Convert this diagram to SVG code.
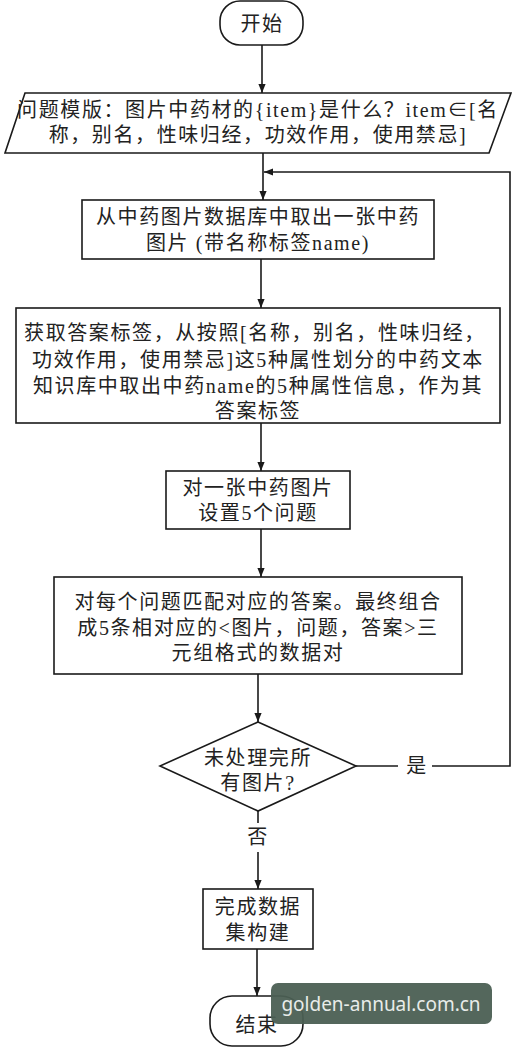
<svg xmlns="http://www.w3.org/2000/svg" width="516" height="1048" viewBox="0 0 516 1048">
<defs>
<style>
.s{fill:#fff;stroke:#1a1a1a;stroke-width:1.6}
.t{font-family:"Liberation Serif","Noto Sans CJK SC",serif;font-size:20px;letter-spacing:1.6px;fill:#222;text-anchor:middle;dominant-baseline:central}
.c{fill:none;stroke:#1a1a1a;stroke-width:1.6}
</style>
<marker id="ah" viewBox="0 0 10 10" refX="10" refY="5" markerWidth="9" markerHeight="9" markerUnits="userSpaceOnUse" orient="auto"><path d="M0,1 L10,5 L0,9 Z" fill="#1a1a1a"/></marker>
</defs>
<rect width="516" height="1048" fill="#fff"/>
<g id="connectors">
<line class="c" x1="262" y1="45" x2="262" y2="93" marker-end="url(#ah)"/>
<line class="c" x1="263" y1="153" x2="263" y2="200" marker-end="url(#ah)"/>
<polyline class="c" points="356,766 398,766"/>
<polyline class="c" points="432,766 510,766 510,172 264,172" marker-end="url(#ah)"/>
<line class="c" x1="261" y1="259" x2="261" y2="308" marker-end="url(#ah)"/>
<line class="c" x1="261" y1="423" x2="261" y2="471" marker-end="url(#ah)"/>
<line class="c" x1="261" y1="529" x2="261" y2="577" marker-end="url(#ah)"/>
<line class="c" x1="258" y1="674" x2="258" y2="722" marker-end="url(#ah)"/>
<line class="c" x1="258" y1="811" x2="258" y2="823"/>
<line class="c" x1="258" y1="852" x2="258" y2="889" marker-end="url(#ah)"/>
<line class="c" x1="257" y1="949" x2="257" y2="996" marker-end="url(#ah)"/>
<text class="t" x="417" y="766">是</text>
<text class="t" x="258" y="837">否</text>
</g>
<g id="start">
<rect class="s" x="220" y="1" width="83" height="44" rx="20"/>
<text class="t" x="262" y="24">开始</text>
</g>
<g id="template">
<polygon class="s" points="25,93 511,93 489,153 5,153"/>
<text class="t" x="258" y="110">问题模版：图片中药材的{item}是什么？item∈[名</text>
<text class="t" x="258" y="135">称，别名，性味归经，功效作用，使用禁忌]</text>
</g>
<g id="fetch">
<rect class="s" x="82" y="200" width="352" height="59"/>
<text class="t" x="258" y="217">从中药图片数据库中取出一张中药</text>
<text class="t" x="258" y="243">图片 (带名称标签name)</text>
</g>
<g id="label">
<rect class="s" x="16" y="308" width="484" height="115"/>
<text class="t" x="255" y="333">获取答案标签，从按照[名称，别名，性味归经，</text>
<text class="t" x="258" y="360">功效作用，使用禁忌]这5种属性划分的中药文本</text>
<text class="t" x="258" y="386">知识库中取出中药name的5种属性信息，作为其</text>
<text class="t" x="258" y="411">答案标签</text>
</g>
<g id="questions">
<rect class="s" x="166" y="471" width="184" height="58"/>
<text class="t" x="258" y="488">对一张中药图片</text>
<text class="t" x="258" y="513">设置5个问题</text>
</g>
<g id="match">
<rect class="s" x="54" y="577" width="408" height="97"/>
<text class="t" x="258" y="602">对每个问题匹配对应的答案。最终组合</text>
<text class="t" x="258" y="628">成5条相对应的&lt;图片，问题，答案&gt;三</text>
<text class="t" x="258" y="653">元组格式的数据对</text>
</g>
<g id="decision">
<polygon class="s" points="258,722 356,766 258,811 160,766"/>
<text class="t" x="258" y="758">未处理完所</text>
<text class="t" x="258" y="783">有图片?</text>
</g>
<g id="done">
<rect class="s" x="203" y="889" width="110" height="60"/>
<text class="t" x="258" y="907">完成数据</text>
<text class="t" x="258" y="933">集构建</text>
</g>
<g id="end">
<rect class="s" x="210" y="996" width="93" height="50" rx="22"/>
<text class="t" x="257" y="1025">结束</text>
</g>
<g id="watermark">
<rect x="271" y="983" width="221" height="41" rx="7" fill="#4b5f53" fill-opacity="0.95"/>
<text x="381" y="1004" font-family="'Noto Sans',sans-serif" font-size="19" fill="#e8ece9" text-anchor="middle" dominant-baseline="central">golden-annual.com.cn</text>
</g>
</svg>
